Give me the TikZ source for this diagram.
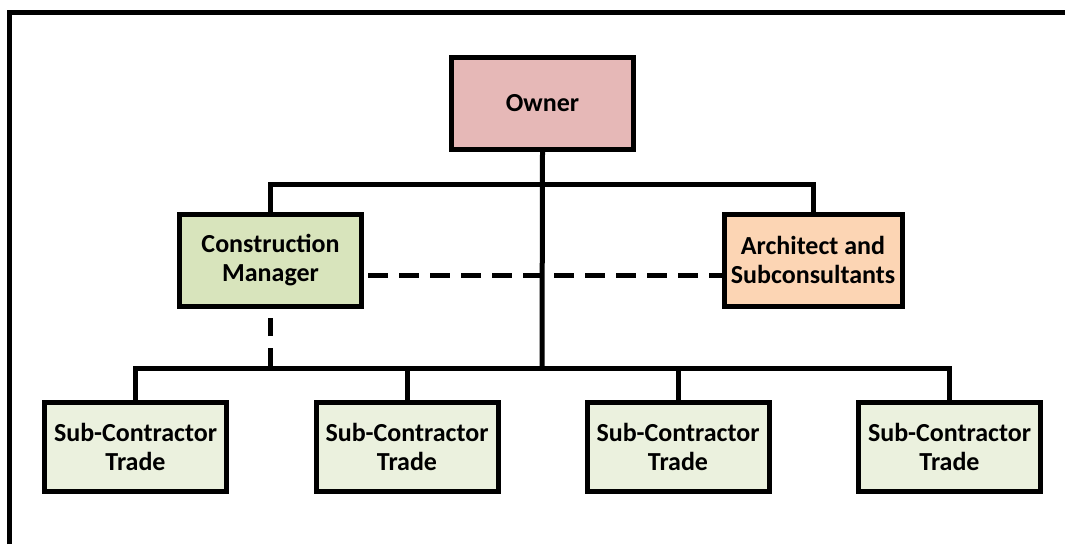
\documentclass[tikz,border=0pt]{standalone}
\usepackage{fontspec}
\setmainfont{Carlito}
\definecolor{ownerfill}{HTML}{E6B8B7}
\definecolor{cmfill}{HTML}{D8E4BC}
\definecolor{archfill}{HTML}{FCD5B4}
\definecolor{tradefill}{HTML}{EBF1DE}
\begin{document}
\begin{tikzpicture}[x=1pt,y=-1pt,line width=5pt]

      \useasboundingbox (0,0) rectangle (1065,544);
      \draw[line cap=butt] (9.5,544) -- (9.5,12.5) -- (1065,12.5);

      \begin{scope}[every node/.style={rectangle,draw,align=center,
          font=\fontsize{26}{29.5}\selectfont\bfseries,
          minimum width=182pt,minimum height=92pt,inner sep=2pt}]
        \node[fill=ownerfill] (owner) at (542.5,103) {Owner};
        \node[fill=cmfill]    (cm)    at (270.5,260) {Construction\\Manager};
        \node[fill=archfill,minimum width=178pt] (arch) at (813,260) {Architect and\\Subconsultants};
      \end{scope}

      \begin{scope}[every node/.style={rectangle,draw,fill=tradefill,align=center,
          font=\fontsize{26}{29.5}\selectfont\bfseries,
          minimum width=182pt,minimum height=89pt,inner sep=2pt}]
        \node (t1) at (135.5,447) {Sub-Contractor\\Trade};
        \node (t2) at (407,447)   {Sub-Contractor\\Trade};
        \node (t3) at (678,447)   {Sub-Contractor\\Trade};
        \node (t4) at (949.5,447) {Sub-Contractor\\Trade};
      \end{scope}

      \coordinate (top) at (542,184);
      \coordinate (bot) at (542,368);

      \draw (owner.south) -- (bot);
      \draw (cm.north) -- (cm.north |- top) -- (arch.north |- top) -- (arch.north);
      \draw (t1.north) -- (t1.north |- bot) -- (t4.north |- bot) -- (t4.north);
      \draw (t2.north) -- (t2.north |- bot);
      \draw (t3.north) -- (t3.north |- bot);

      \draw[dash pattern=on 20pt off 11pt,dash phase=27pt]
        ([yshift=-15pt]cm.east) -- ([yshift=-15pt]arch.west);
      \draw[dash pattern=on 20pt off 12pt on 18pt off 20pt] (cm.south |- bot) -- (cm.south);

    \end{tikzpicture}
\end{document}
